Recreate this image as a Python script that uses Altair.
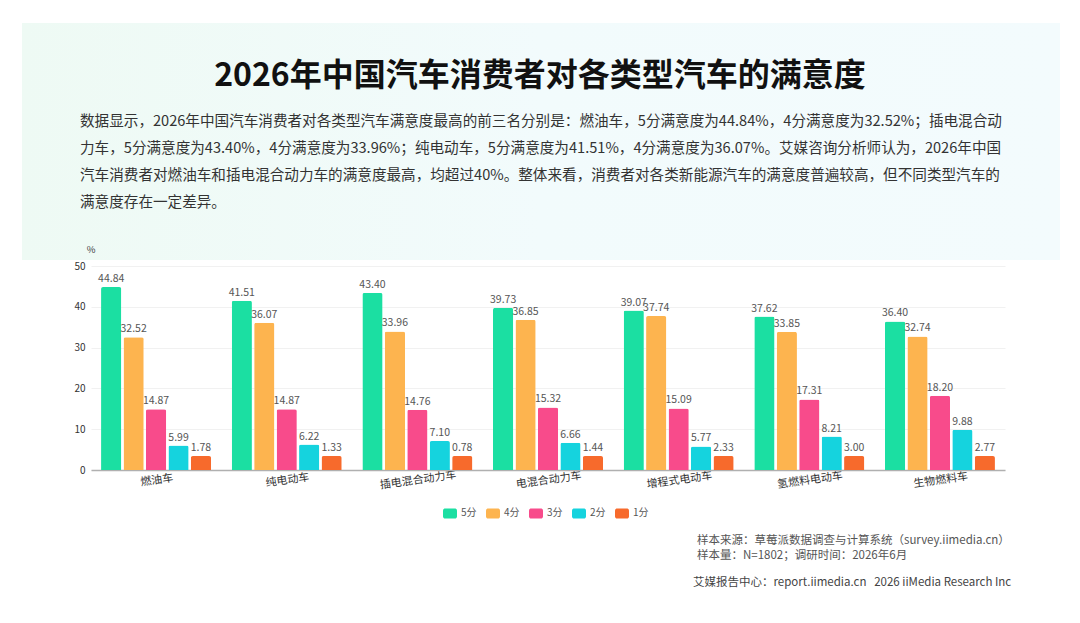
import altair as alt
import pandas as pd

categories = ["燃油车", "纯电动车", "插电混合动力车", "电混合动力车", "增程式电动车", "氢燃料电动车", "生物燃料车"]
series = ["5分", "4分", "3分", "2分", "1分"]
score5 = [44.84, 41.51, 43.40, 39.73, 39.07, 37.62, 36.40]
score4 = [32.52, 36.07, 33.96, 36.85, 37.74, 33.85, 32.74]
score3 = [14.87, 14.87, 14.76, 15.32, 15.09, 17.31, 18.20]
score2 = [5.99, 6.22, 7.10, 6.66, 5.77, 8.21, 9.88]
score1 = [1.78, 1.33, 0.78, 1.44, 2.33, 3.00, 2.77]
colors = ["#1bdfa2", "#fdb44f", "#f84b8b", "#15d3de", "#f76a2c"]

title_text = "2026年中国汽车消费者对各类型汽车的满意度"
para_lines = [
    "数据显示，2026年中国汽车消费者对各类型汽车满意度最高的前三名分别是：燃油车，5分满意度为44.84%，4分满意度为32.52%；插电混合动",
    "力车，5分满意度为43.40%，4分满意度为33.96%；纯电动车，5分满意度为41.51%，4分满意度为36.07%。艾媒咨询分析师认为，2026年中国",
    "汽车消费者对燃油车和插电混合动力车的满意度最高，均超过40%。整体来看，消费者对各类新能源汽车的满意度普遍较高，但不同类型汽车的",
    "满意度存在一定差异。",
]
unit_label = "%"
foot_lines = [
    "样本来源：草莓派数据调查与计算系统（survey.iimedia.cn）",
    "样本量：N=1802；调研时间：2026年6月",
]
foot_line3 = "艾媒报告中心：report.iimedia.cn\u00a0\u00a0\u00a02026 iiMedia Research Inc"

FONT = "Noto Sans CJK SC"

rows = []
for s, vals in zip(series, [score5, score4, score3, score2, score1]):
    for c, v in zip(categories, vals):
        rows.append({"cat": c, "series": s, "value": v})
df = pd.DataFrame(rows)

base = alt.Chart(df).transform_calculate(disp="max(datum.value, 3.43)")

x_enc = alt.X(
    "cat:N", sort=categories,
    scale=alt.Scale(paddingInner=0.158, paddingOuter=0.077),
    axis=alt.Axis(title=None, labelAngle=-8, labelAlign="center", labelBaseline="top",
                  labelFontSize=11, labelColor="#333", labelPadding=4, ticks=False,
                  domainColor="#b0b0b0", domainWidth=1.5, grid=False),
)
xo_enc = alt.XOffset("series:N", sort=series, scale=alt.Scale(paddingInner=0.1, paddingOuter=0))
y_enc = alt.Y(
    "disp:Q", scale=alt.Scale(domain=[0, 50], nice=False),
    axis=alt.Axis(title=None, values=[0, 10, 20, 30, 40, 50], domain=False, ticks=False,
                  labelFontSize=10, labelColor="#333", labelPadding=6,
                  gridColor="#f1f1f1", gridWidth=1),
)

rounded = ("M-0.7,-0.72H0.7A0.3,0.3 0 0 1 1,-0.42V0.42A0.3,0.3 0 0 1 0.7,0.72"
           "H-0.7A0.3,0.3 0 0 1 -1,0.42V-0.42A0.3,0.3 0 0 1 -0.7,-0.72Z")

bars = base.mark_bar(cornerRadiusTopLeft=2, cornerRadiusTopRight=2).encode(
    x=x_enc, xOffset=xo_enc, y=y_enc,
    color=alt.Color(
        "series:N", sort=series,
        scale=alt.Scale(domain=series, range=colors),
        legend=alt.Legend(orient="none", legendX=352, legendY=240, direction="horizontal",
                          title=None, symbolType=rounded, symbolSize=196, symbolStrokeWidth=0,
                          symbolOpacity=1, labelFontSize=10, labelColor="#555",
                          columnPadding=9, labelOffset=4),
    ),
)

labels = base.mark_text(baseline="bottom", dy=-3, fontSize=10.5, color="#555", font=FONT).encode(
    x=alt.X("cat:N", sort=categories), xOffset=alt.XOffset("series:N", sort=series),
    y="disp:Q", text=alt.Text("value:Q", format=".2f"),
)

one = pd.DataFrame({"k": [0]})

panel = alt.Chart(one).mark_rect(
    fill=alt.Gradient(gradient="linear", x1=0, x2=1, y1=0, y2=0,
                      stops=[alt.GradientStop(color="#eefaf4", offset=0),
                             alt.GradientStop(color="#f2fbfc", offset=0.5),
                             alt.GradientStop(color="#f3fbfd", offset=1)]),
).encode(x=alt.value(-69), x2=alt.value(969), y=alt.value(-243), y2=alt.value(-6))

title = alt.Chart(pd.DataFrame({"t": [title_text]})).mark_text(
    fontSize=32, fontWeight="bold", color="#111", align="center", baseline="middle", font=FONT
).encode(text="t:N", x=alt.value(449), y=alt.value(-190))

para = alt.Chart(pd.DataFrame({"t": ["\n".join(para_lines)]})).mark_text(
    fontSize=14.6, color="#333", align="left", baseline="middle", font=FONT,
    lineBreak="\n", lineHeight=27,
).encode(text="t:N", x=alt.value(-11), y=alt.value(-144))

unit = alt.Chart(pd.DataFrame({"t": [unit_label]})).mark_text(
    fontSize=9.5, color="#444", align="center", baseline="middle", font=FONT,
).encode(text="t:N", x=alt.value(0), y=alt.value(-16))

foot = alt.Chart(pd.DataFrame({"t": ["\n".join(foot_lines)]})).mark_text(
    fontSize=11.5, color="#555", align="left", baseline="middle", font=FONT,
    lineBreak="\n", lineHeight=15,
).encode(text="t:N", x=alt.value(606), y=alt.value(275))

foot3 = alt.Chart(pd.DataFrame({"t": [foot_line3]})).mark_text(
    fontSize=11.5, color="#444", align="left", baseline="middle", font=FONT,
).encode(text="t:N", x=alt.value(602), y=alt.value(317))

chart = alt.layer(panel, title, para, unit, bars, labels, foot, foot3).properties(
    width=914, height=204,
    padding={"left": 83, "top": 258, "right": 60, "bottom": 140},
    autosize=alt.AutoSizeParams(type="none"),
    background="white",
).configure(font=FONT, view=alt.ViewConfig(stroke=None))

chart.save("out.html", embed_options={"renderer": "svg", "actions": False})
